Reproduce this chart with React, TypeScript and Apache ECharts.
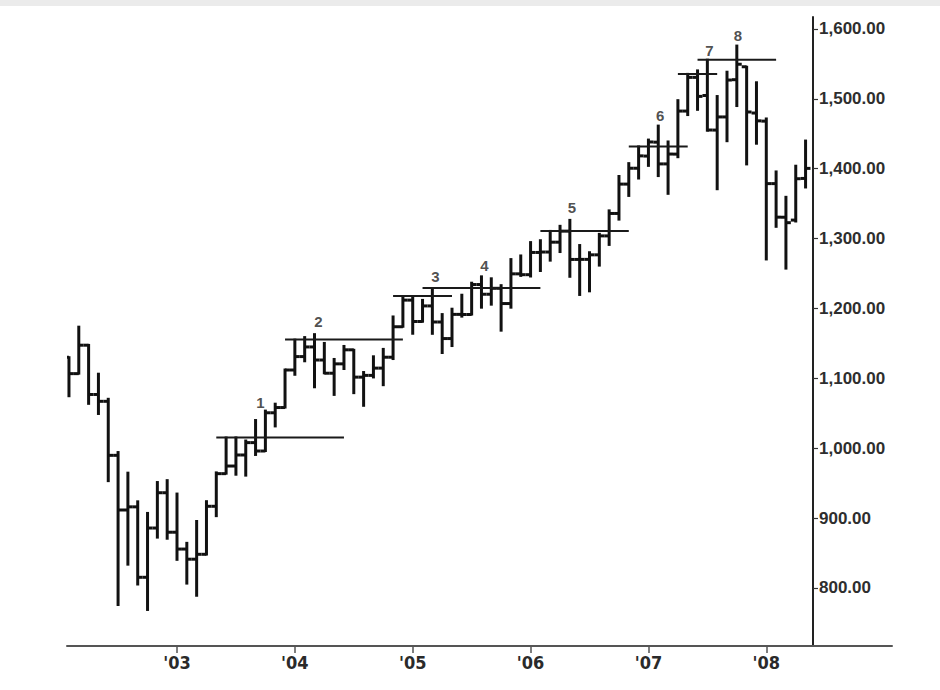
import React, { useEffect, useRef } from "react";
import * as echarts from "echarts";

// Monthly bars, index 0 = Feb 2002
const months = [
  "2002-02","2002-03","2002-04","2002-05","2002-06","2002-07","2002-08","2002-09","2002-10","2002-11","2002-12",
  "2003-01","2003-02","2003-03","2003-04","2003-05","2003-06","2003-07","2003-08","2003-09","2003-10","2003-11","2003-12",
  "2004-01","2004-02","2004-03","2004-04","2004-05","2004-06","2004-07","2004-08","2004-09","2004-10","2004-11","2004-12",
  "2005-01","2005-02","2005-03","2005-04","2005-05","2005-06","2005-07","2005-08","2005-09","2005-10","2005-11","2005-12",
  "2006-01","2006-02","2006-03","2006-04","2006-05","2006-06","2006-07","2006-08","2006-09","2006-10","2006-11","2006-12",
  "2007-01","2007-02","2007-03","2007-04","2007-05","2007-06","2007-07","2007-08","2007-09","2007-10","2007-11","2007-12",
  "2008-01","2008-02","2008-03","2008-04","2008-05",
];
const opens = [
  1130.2,1106.7,1147.4,1076.9,1067.1,989.8,911.6,916.1,815.3,885.8,936.3,
  879.8,855.7,841.2,848.2,916.9,963.6,974.5,990.3,1008.0,996.0,1050.7,1058.2,
  1111.9,1131.1,1144.9,1126.2,1107.3,1120.7,1140.8,1101.7,1104.2,1114.6,1130.2,1173.8,
  1211.9,1181.3,1203.6,1180.6,1156.9,1191.5,1191.3,1234.2,1220.3,1228.8,1207.0,1249.5,
  1248.3,1280.1,1280.7,1294.8,1310.6,1270.1,1270.2,1276.7,1303.8,1335.9,1377.9,1400.6,
  1418.0,1437.9,1406.8,1420.8,1482.4,1530.6,1504.7,1455.2,1474.0,1527.3,1545.8,1479.6,
  1468.0,1378.6,1330.5,1326.4,1386.0,
];
const highs = [
  1130.2,1173.9,1147.8,1106.6,1070.7,994.5,965.0,924.0,907.4,951.6,954.3,
  935.1,864.6,895.9,924.2,965.4,1015.3,1015.4,1011.0,1040.3,1053.8,1063.7,1112.6,
  1155.4,1159.0,1163.2,1150.6,1127.7,1146.3,1140.8,1109.0,1131.5,1142.1,1188.5,1217.3,
  1217.8,1212.2,1229.1,1191.9,1199.6,1219.6,1236.8,1245.9,1243.1,1233.3,1270.6,1275.8,
  1294.9,1297.6,1310.9,1318.2,1326.7,1290.7,1280.4,1306.7,1340.3,1389.5,1407.9,1431.8,
  1441.6,1461.6,1438.9,1498.0,1535.6,1540.6,1555.9,1503.9,1538.7,1576.1,1545.8,1523.6,
  1471.8,1396.0,1359.7,1404.2,1440.2,
];
const lows = [
  1074.4,1106.7,1063.5,1049.0,952.9,775.7,833.4,805.0,768.6,872.1,870.5,
  840.3,806.3,788.9,847.9,902.8,963.6,962.1,960.8,990.4,996.0,1031.2,1058.2,
  1105.1,1124.4,1087.2,1107.2,1076.3,1113.3,1078.8,1060.7,1101.3,1090.2,1127.6,1173.8,
  1163.8,1181.0,1163.7,1136.2,1146.2,1188.3,1191.3,1201.1,1205.4,1168.2,1201.1,1246.6,
  1245.7,1253.6,1268.4,1280.7,1245.3,1219.3,1224.5,1261.3,1290.9,1327.1,1361.0,1385.9,
  1404.0,1389.4,1364.0,1416.4,1476.7,1484.2,1454.3,1370.6,1439.3,1489.6,1406.1,1435.7,
  1270.1,1316.8,1257.0,1324.4,1373.1,
];
const closes = [
  1106.7,1147.4,1076.9,1067.1,989.8,911.6,916.1,815.3,885.8,936.3,879.8,
  855.7,841.2,848.2,916.9,963.6,974.5,990.3,1008.0,996.0,1050.7,1058.2,1111.9,
  1131.1,1144.9,1126.2,1107.3,1120.7,1140.8,1101.7,1104.2,1114.6,1130.2,1173.8,1211.9,
  1181.3,1203.6,1180.6,1156.9,1191.5,1191.3,1234.2,1220.3,1228.8,1207.0,1249.5,1248.3,
  1280.1,1280.7,1294.8,1310.6,1270.1,1270.2,1276.7,1303.8,1335.9,1377.9,1400.6,1418.3,
  1438.2,1406.8,1420.9,1482.4,1530.6,1503.4,1455.3,1474.0,1526.8,1549.4,1481.1,1468.4,
  1378.6,1330.6,1322.7,1385.6,1400.4,
];

// Horizontal resistance levels (start month index, end month index, value)
const levelStarts = [15, 22, 33, 36, 48, 57, 62, 64];
const levelEnds = [28, 34, 39, 48, 57, 63, 66, 72];
const levelValues = [1015.4, 1155.4, 1217.8, 1229.1, 1310.9, 1431.8, 1535.6, 1555.9];

// Numbered annotations
const noteTexts = ["1", "2", "3", "4", "5", "6", "7", "8"];
const noteX = [19.5, 25.4, 37.3, 42.3, 51.2, 60.2, 65.2, 68.1];
const noteY = [1066, 1181, 1245, 1261, 1344, 1476, 1569, 1590];

// Axis ticks
const yearTickMonths = ["2003-01", "2004-01", "2005-01", "2006-01", "2007-01", "2008-01"];
const yearLabels = ["'03", "'04", "'05", "'06", "'07", "'08"];
const priceTicks = [800, 900, 1000, 1100, 1200, 1300, 1400, 1500, 1600];

const fmtPrice = (v: number) => {
  const s = v.toFixed(2);
  const [i, d] = s.split(".");
  return i.replace(/\B(?=(\d{3})+(?!\d))/g, ",") + "." + d;
};

export default function App() {
  const ref = useRef<HTMLDivElement>(null);
  useEffect(() => {
    if (!ref.current) return;
    const chart = echarts.init(ref.current, null, { renderer: "svg" });
    const yearIdx = yearTickMonths.map((m) => months.indexOf(m));
    const ohlc = months.map((_, i) => [i, opens[i], highs[i], lows[i], closes[i]]);
    const levels = levelValues.map((v, i) => [levelStarts[i], levelEnds[i], v]);
    const notes = noteTexts.map((t, i) => ({ name: t, value: [noteX[i], noteY[i]] }));

    chart.setOption({
      animation: false,
      backgroundColor: "#ffffff",
      graphic: [
        { type: "rect", left: 0, top: 0, shape: { width: 940, height: 6 }, style: { fill: "#ebebeb" }, z: -1 },
      ],
      grid: { left: 67, right: 48, top: 17, bottom: 44 },
      xAxis: {
        type: "value",
        min: -0.2,
        max: 83.8,
        splitLine: { show: false },
        axisLine: { onZero: false, lineStyle: { color: "#555", width: 2 } },
        axisTick: { show: true, customValues: yearIdx, length: 7, lineStyle: { color: "#555", width: 1.5 } },
        axisLabel: {
          customValues: yearIdx,
          formatter: (v: number) => yearLabels[yearIdx.indexOf(Math.round(v))] ?? "",
          color: "#2a2a2a",
          fontSize: 18,
          fontWeight: "bold",
          fontFamily: "'Liberation Sans Narrow', 'DejaVu Sans Condensed', 'Liberation Sans', Arial, sans-serif",
          margin: 7,
        },
      },
      yAxis: {
        type: "value",
        position: "right",
        offset: -79,
        min: 717,
        max: 1617,
        splitLine: { show: false },
        axisLine: { show: true, onZero: false, lineStyle: { color: "#222", width: 2 } },
        axisTick: { show: true, customValues: priceTicks, length: 5, lineStyle: { color: "#333", width: 1.2 } },
        axisLabel: {
          customValues: priceTicks,
          formatter: (v: number) => fmtPrice(v),
          color: "#2e2e2e",
          fontSize: 17,
          fontWeight: "bold",
          fontFamily: "'Liberation Sans', Arial, sans-serif",
          margin: 6,
        },
      },
      series: [
        {
          type: "custom",
          name: "OHLC",
          clip: true,
          data: ohlc,
          encode: { x: 0, y: [1, 2, 3, 4] },
          renderItem: (params: any, api: any) => {
            const x = api.value(0);
            const pO = api.coord([x, api.value(1)]);
            const pH = api.coord([x, api.value(2)]);
            const pL = api.coord([x, api.value(3)]);
            const pC = api.coord([x, api.value(4)]);
            const half = api.size([1, 0])[0] * 0.5;
            const st = { stroke: "#111", lineWidth: 3, lineCap: "butt" };
            return {
              type: "group",
              children: [
                { type: "line", shape: { x1: pH[0], y1: pH[1] - 1, x2: pL[0], y2: pL[1] + 1 }, style: st },
                { type: "line", shape: { x1: pO[0] - half, y1: pO[1], x2: pO[0], y2: pO[1] }, style: st },
                { type: "line", shape: { x1: pC[0], y1: pC[1], x2: pC[0] + half, y2: pC[1] }, style: st },
              ],
            };
          },
        },
        {
          type: "custom",
          name: "Levels",
          clip: true,
          data: levels,
          encode: { x: [0, 1], y: 2 },
          renderItem: (params: any, api: any) => {
            const a = api.coord([api.value(0), api.value(2)]);
            const b = api.coord([api.value(1), api.value(2)]);
            return {
              type: "line",
              shape: { x1: a[0], y1: a[1], x2: b[0], y2: b[1] },
              style: { stroke: "#1a1a1a", lineWidth: 2 },
            };
          },
        },
        {
          type: "scatter",
          name: "Notes",
          symbolSize: 0,
          data: notes,
          label: {
            show: true,
            position: "inside",
            formatter: "{b}",
            color: "#222",
            fontSize: 15,
            fontWeight: "bold",
            fontFamily: "'Liberation Sans', Arial, sans-serif",
          },
        },
      ],
    });
    return () => chart.dispose();
  }, []);
  return (
    <div
      ref={ref}
      style={{ position: "fixed", left: 0, top: 0, width: 940, height: 690, background: "#fff" }}
    />
  );
}
